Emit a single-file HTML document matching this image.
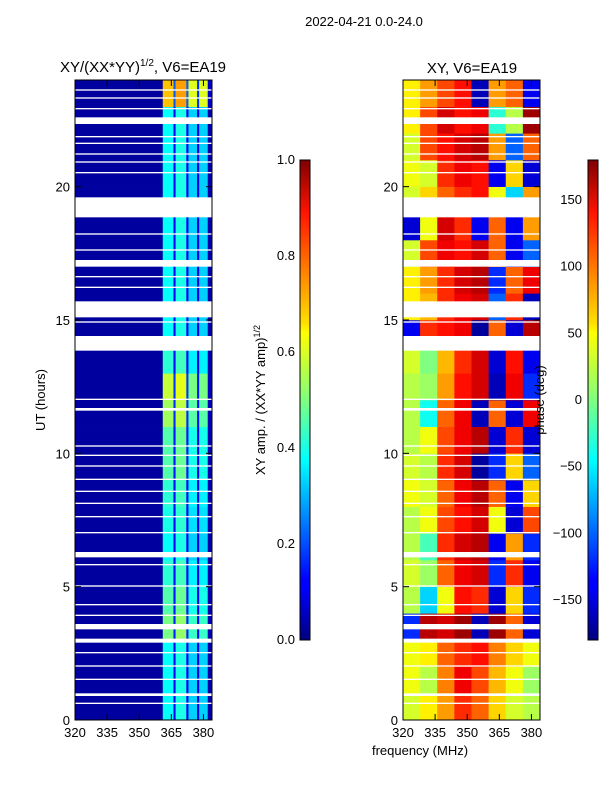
<!DOCTYPE html>
<html><head><meta charset="utf-8"><style>
body{margin:0;background:#fff;}
svg text{font-family:"Liberation Sans",sans-serif;fill:#000;}
</style></head><body>
<svg id="s" width="600" height="800" viewBox="0 0 600 800">
<defs>
<linearGradient id="jet" x1="0" y1="1" x2="0" y2="0">
<stop offset="0" stop-color="#00007f"/><stop offset="0.11" stop-color="#0000ff"/><stop offset="0.125" stop-color="#0000ff"/>
<stop offset="0.34" stop-color="#00dcff"/><stop offset="0.375" stop-color="#00ffff"/><stop offset="0.5" stop-color="#7fff7f"/>
<stop offset="0.64" stop-color="#ffff00"/><stop offset="0.66" stop-color="#ffe000"/><stop offset="0.89" stop-color="#ff1400"/>
<stop offset="1" stop-color="#7f0000"/></linearGradient>
</defs>
<text x="364" y="26" font-size="13" text-anchor="middle">2022-04-21 0.0-24.0</text>
<text x="143" y="72" font-size="15" text-anchor="middle">XY/(XX*YY)<tspan dy="-6" font-size="10">1/2</tspan><tspan dy="6">, V6=EA19</tspan></text>
<text x="472" y="73" font-size="15" text-anchor="middle">XY, V6=EA19</text>
<g id="left"></g>
<g id="right"></g>
<g id="axes"></g>
<rect x="300" y="160" width="10" height="480" fill="url(#jet)" stroke="#000" stroke-width="1"/>
<rect x="588" y="160" width="10" height="480" fill="url(#jet)" stroke="#000" stroke-width="1"/>
<text transform="translate(265,400) rotate(-90)" font-size="13" text-anchor="middle">XY amp. / (XX*YY amp)<tspan dy="-5" font-size="9">1/2</tspan></text>
<text transform="translate(544,400) rotate(-90)" font-size="13" text-anchor="middle">phase (deg)</text>
<text transform="translate(45,400) rotate(-90)" font-size="13" text-anchor="middle">UT (hours)</text>
<text x="420" y="755" font-size="13" text-anchor="middle">frequency (MHz)</text>
</svg>
<script>
const hoursRowGain=[1,1,1,1.3,1.2,1.1,1,1.05,1.1,1.2,1.2,1.4,1.5,1.1,1,1,1,1,1,1,1,1,1,1.8];
const freqProfile=[[320,361,0.03],[361,366,0.38],[366,367,0.12],[367,372,0.4],[372,373,0.12],[373,377,0.33],[377,378,0.1],[378,382,0.33],[382,384,0.04]];
const phaseCols=[320,328,336,344,352,360,368,376,384];
const phaseGrid=[
[30,50,80,120,100,60,30,20],[40,20,90,140,110,70,40,10],[40,50,100,120,130,90,60,40],
[-120,160,150,170,-160,170,100,-150],[20,-60,40,130,120,-150,60,-120],[30,10,100,140,150,-120,120,-140],
[20,-20,120,150,160,-140,80,-120],[20,40,110,130,150,40,-150,110],[40,30,100,140,160,100,-140,60],
[30,20,120,150,-170,-120,60,-100],[20,40,110,140,160,-150,120,-150],[20,-40,100,140,-160,100,-150,140],
[20,10,80,130,150,-160,140,-120],[30,0,70,120,150,-150,130,-140],[-140,120,130,140,-170,100,-150,160],
[50,70,120,140,150,-100,120,-160],[50,80,120,150,160,-120,100,140],[30,110,140,130,150,100,-140,-100],
[-150,40,150,120,-140,100,-140,80],[30,60,100,120,130,40,-60,80],[40,30,120,140,130,-140,60,-150],
[30,110,130,150,160,80,-100,100],[50,110,150,130,140,-30,20,170],[50,80,110,130,-160,80,100,-140]];
const gaps=[[23.6,23.65],[23.3,23.35],[22.9,22.95],[22.35,22.6],[21.85,21.9],[21.6,21.65],[21.2,21.25],[20.9,20.95],[20.5,20.55],[18.85,19.6],[18.2,18.25],[17.6,17.65],[17.0,17.25],[16.6,16.65],[16.2,16.25],[15.1,15.7],[14.9,14.95],[13.85,14.4],[12.0,12.05],[11.6,11.7],[10.25,10.3],[9.9,9.95],[9.5,9.55],[9.0,9.05],[8.55,8.6],[8.1,8.15],[7.6,7.65],[7.0,7.05],[6.1,6.3],[5.8,5.85],[5.0,5.05],[4.3,4.35],[3.9,3.95],[3.4,3.6],[2.9,3.05],[2.5,2.55],[2.0,2.05],[1.5,1.55],[0.9,1.0],[0.6,0.65]];
const xTicks=[320,335,350,365,380];
const yTicks=[0,5,10,15,20];
const ampTicks=["0.0","0.2","0.4","0.6","0.8","1.0"];
const phaseTicks=[150,100,50,0,-50,-100,-150];

const NS="http://www.w3.org/2000/svg";
const top0=80,bot0=720;
const yS=h=>bot0-(h/24)*(bot0-top0);
const xL=f=>75+(f-320)/64*137;
const xR=f=>403+(f-320)/64*137;
function jet(v){v=Math.max(0,Math.min(1,v));
 const r=Math.min(Math.max(Math.min(4*v-1.5,-4*v+4.5),0),1);
 const g=Math.min(Math.max(Math.min(4*v-0.5,-4*v+3.5),0),1);
 const b=Math.min(Math.max(Math.min(4*v+0.5,-4*v+2.5),0),1);
 return `rgb(${Math.round(r*255)},${Math.round(g*255)},${Math.round(b*255)})`;}
function rect(p,x,y,w,h,fill,name){const r=document.createElementNS(NS,'rect');
 r.setAttribute('x',x);r.setAttribute('y',y);r.setAttribute('width',w);r.setAttribute('height',h);r.setAttribute('fill',fill);
 
 
 p.appendChild(r);return r;}
function txt(p,x,y,s,anchor,name){const t=document.createElementNS(NS,'text');
 t.setAttribute('x',x);t.setAttribute('y',y);t.setAttribute('font-size','13');t.setAttribute('text-anchor',anchor);t.textContent=s;
 
 
 p.appendChild(t);}
const L=document.getElementById('left'),R=document.getElementById('right'),A=document.getElementById('axes');
hoursRowGain.forEach((g,h)=>{freqProfile.forEach(([f0,f1,v])=>{
 const val=f0<361?v:v*g;
 rect(L,xL(f0),yS(h+1),xL(f1)-xL(f0)+0.3,yS(h)-yS(h+1)+0.3,jet(val),'amp-cell');});});
phaseGrid.forEach((row,h)=>{row.forEach((p,i)=>{
 rect(R,xR(phaseCols[i]),yS(h+1),xR(phaseCols[i+1])-xR(phaseCols[i])+0.3,yS(h)-yS(h+1)+0.3,jet((p+180)/360),'phase-cell');});});
gaps.forEach(([a,b])=>{
 rect(L,75,yS(b),137,Math.max(1,yS(a)-yS(b)),'#fff','amp-gap');
 rect(R,403,yS(b),137,Math.max(1,yS(a)-yS(b)),'#fff','phase-gap');});
[75,403].forEach((x0,k)=>{
 const fr=rect(A,x0,80,137,640,'none','panel-frame');fr.setAttribute('stroke','#000');
 const xf=k?xR:xL;
 xTicks.forEach(t=>{rect(A,xf(t)-0.5,714,1,6,'#000','x-tick');rect(A,xf(t)-0.5,80,1,6,'#000','x-tick');
  txt(A,xf(t),737,String(t),'middle','x-tick-label');});
 yTicks.forEach(t=>{rect(A,x0,yS(t)-0.5,6,1,'#000','y-tick');rect(A,x0+131,yS(t)-0.5,6,1,'#000','y-tick');
  txt(A,x0-5,yS(t)+5,String(t),'end','y-tick-label');});
});
ampTicks.forEach((s,i)=>{const y=640-i*96;rect(A,300,y-0.5,3,1,'#000','amp-tick');txt(A,295,y+4,s,'end','amp-tick-label');});
phaseTicks.forEach(p=>{const y=400-p*480/360;rect(A,588,y-0.5,3,1,'#000','phase-tick');txt(A,582,y+4,String(p).replace('-','\u2212'),'end','phase-tick-label');});
</script>
</body></html>
